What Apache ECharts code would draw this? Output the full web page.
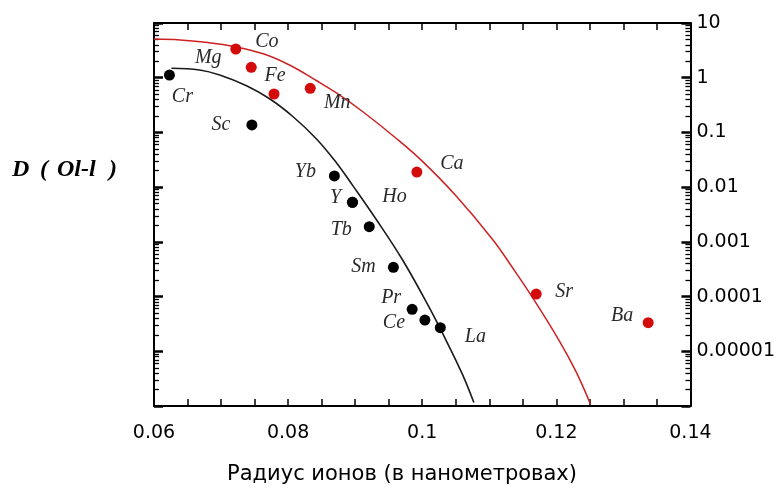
<!DOCTYPE html>
<html><head><meta charset="utf-8">
<script src="https://cdn.jsdelivr.net/npm/echarts@6/dist/echarts.min.js"></script>
<style>html,body{margin:0;padding:0;background:#fff}#c{width:778px;height:491px}</style>
</head><body><div id="c"></div>
<script>
// ---- data ----
const redNames  = ['Co', 'Mg', 'Fe', 'Mn', 'Ca', 'Sr', 'Ba'];
const redRadius = [0.0722, 0.0745, 0.0779, 0.0833, 0.0992, 0.1170, 0.1337];
const redD      = [3.35, 1.55, 0.504, 0.64, 0.0189, 1.11e-4, 3.33e-5];

const blackNames  = ['Cr', 'Sc', 'Yb', 'Y', 'Ho', 'Tb', 'Sm', 'Pr', 'Ce', 'La'];
const blackRadius = [0.0623, 0.0746, 0.0869, 0.0896, 0.0896, 0.0921, 0.0957, 0.0985, 0.1004, 0.1027];
const blackD      = [1.12, 0.137, 0.016, 0.00528, 0.00528, 0.00189, 3.42e-4, 5.85e-5, 3.72e-5, 2.70e-5];

const redCurveX = [0.0600, 0.0639, 0.0673, 0.0723, 0.0763, 0.0802, 0.0842, 0.0872, 0.0911, 0.0961, 0.1000, 0.1050, 0.1105, 0.1134, 0.1164, 0.1204, 0.1229, 0.1251];
const redCurveY = [5.10, 4.91, 4.50, 3.63, 2.735, 1.707, 0.889, 0.528, 0.2412, 0.0784, 0.0299, 0.00703, 0.001108, 3.47e-4, 9.82e-5, 1.59e-5, 4.34e-6, 1.08e-6];

const blackCurveX = [0.0626, 0.0668, 0.0698, 0.0738, 0.0773, 0.0807, 0.0842, 0.0872, 0.0896, 0.0931, 0.0971, 0.1010, 0.1035, 0.1060, 0.1077];
const blackCurveY = [1.486, 1.383, 1.122, 0.714, 0.408, 0.1954, 0.0768, 0.0280, 0.01089, 0.00262, 4.61e-4, 6.47e-5, 1.64e-5, 3.78e-6, 1.16e-6];

const xTickValues = [0.06, 0.08, 0.10, 0.12, 0.14];
const xTickLabels = ['0.06', '0.08', '0.1', '0.12', '0.14'];
const yTickLabels = ['10', '1', '0.1', '0.01', '0.001', '0.0001', '0.00001'];

const yTitleParts = ['D', '(', 'Ol-l', ')'];
const xTitle = 'Радиус ионов (в нанометровах)';

// ---- label placement (style, not data) ----
const labelOffsets = {
  Co: [31, -7], Mg: [-43, -10], Fe: [1, -18], Mn: [27, 14], Ca: [35, -8], Sr: [28, -2], Ba: [-26, -7],
  Cr: [13, 22], Sc: [-31, 0], Yb: [-29, -4], Y: [-17, -5], Ho: [42, -6], Tb: [-28, 3],
  Sm: [-30, -1], Pr: [-21, -12], Ce: [-31, 3], La: [35, 9]
};
const yTitleLefts = [12, 40, 57, 109];

const labelFont = { fontFamily: 'Liberation Serif', fontStyle: 'italic', fontSize: 20, color: '#2a2a2a' };

function pts(xs, ys) { return xs.map((x, i) => [x, ys[i]]); }
function named(names, xs, ys) {
  return names.map((n, i) => ({
    name: n, value: [xs[i], ys[i]],
    label: Object.assign({ show: true, position: 'inside', offset: labelOffsets[n], formatter: n, align: 'center', verticalAlign: 'middle' }, labelFont)
  }));
}

// log-decade minor tick positions (axis decoration, in log10 units)
const minorLogTicks = [];
for (let d = -6; d < 1; d++) for (let k = 2; k <= 9; k++) minorLogTicks.push(d + Math.log10(k));

const axisFont = { fontFamily: 'DejaVu Sans', fontSize: 19, color: '#000' };

const xAxisBase = {
  type: 'value', min: 0.06, max: 0.14, interval: 0.005,
  axisLine: { show: true, onZero: false, lineStyle: { color: '#000', width: 2 } },
  axisTick: { show: true, inside: true, length: 7, lineStyle: { color: '#000', width: 1.5 } },
  splitLine: { show: false }
};
const yAxisBase = {
  type: 'log', logBase: 10, min: 1e-6, max: 10, splitNumber: 7,
  axisLine: { show: true, onZero: false, lineStyle: { color: '#000', width: 2 } },
  axisTick: { show: true, inside: true, length: 9, lineStyle: { color: '#000', width: 2.5 } },
  splitLine: { show: false }
};
const minorAxisBase = {
  type: 'value', min: -6, max: 1,
  axisLine: { show: false, onZero: false },
  axisTick: { show: true, inside: true, length: 5, customValues: minorLogTicks, lineStyle: { color: '#000', width: 1.3 } },
  axisLabel: { show: false }, splitLine: { show: false }
};

const chart = echarts.init(document.getElementById('c'), null, { renderer: 'canvas' });
chart.setOption({
  animation: false,
  backgroundColor: '#fff',
  grid: { left: 154, right: 86, top: 23, bottom: 85 },
  xAxis: [
    Object.assign({}, xAxisBase, {
      position: 'bottom',
      axisLabel: Object.assign({ show: true, margin: 18, formatter: function (v) {
        for (let i = 0; i < xTickValues.length; i++) if (Math.abs(v - xTickValues[i]) < 1e-6) return xTickLabels[i];
        return '';
      } }, axisFont)
    }),
    Object.assign({}, xAxisBase, { position: 'top', axisLabel: { show: false } })
  ],
  yAxis: [
    Object.assign({}, yAxisBase, { position: 'left', axisLabel: { show: false } }),
    Object.assign({}, yAxisBase, {
      position: 'right',
      axisLabel: Object.assign({ show: true, margin: 6, formatter: function (v) {
        const idx = Math.round(1 - Math.log10(v));
        return (idx >= 0 && idx < yTickLabels.length) ? yTickLabels[idx] : '';
      } }, axisFont)
    }),
    Object.assign({}, minorAxisBase, { position: 'left' }),
    Object.assign({}, minorAxisBase, { position: 'right' })
  ],
  graphic: yTitleParts.map((t, i) => ({
    type: 'text', left: yTitleLefts[i], top: 158,
    style: { text: t, fontFamily: 'Liberation Serif', fontStyle: 'italic', fontWeight: 'bold', fontSize: 24, fill: '#000' }
  })).concat([{
    type: 'text', left: 227, top: 464,
    style: { text: xTitle, fontFamily: 'DejaVu Sans', fontSize: 21, fill: '#000' }
  }]),
  series: [
    { type: 'line', xAxisIndex: 0, yAxisIndex: 0, data: pts(redCurveX, redCurveY), smooth: 0.4, showSymbol: false,
      lineStyle: { color: '#cc2222', width: 1.5 }, silent: true, z: 2 },
    { type: 'line', xAxisIndex: 0, yAxisIndex: 0, data: pts(blackCurveX, blackCurveY), smooth: 0.4, showSymbol: false,
      lineStyle: { color: '#1a1a1a', width: 1.6 }, silent: true, z: 2 },
    { type: 'scatter', xAxisIndex: 0, yAxisIndex: 0, data: named(redNames, redRadius, redD), symbolSize: 11,
      itemStyle: { color: '#d40b0b', opacity: 1 }, z: 3 },
    { type: 'scatter', xAxisIndex: 0, yAxisIndex: 0, data: named(blackNames, blackRadius, blackD), symbolSize: 11,
      itemStyle: { color: '#000', opacity: 1 }, z: 3 }
  ]
});
</script>
</body></html>
